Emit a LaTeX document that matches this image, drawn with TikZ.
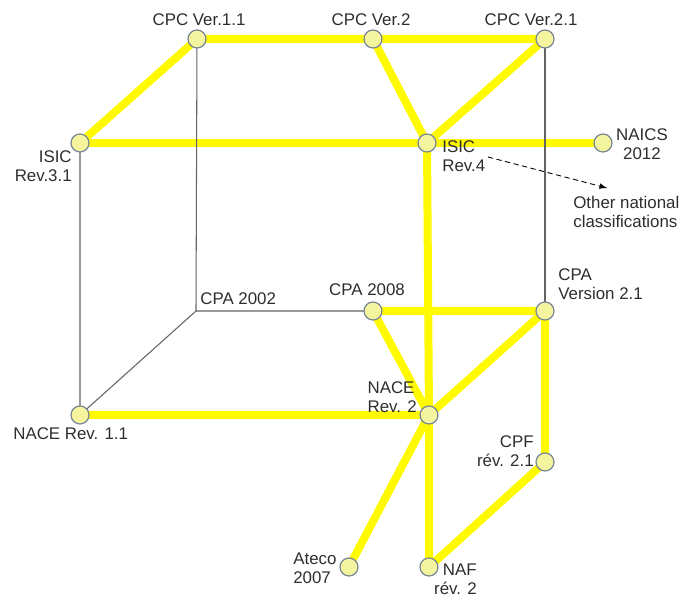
\documentclass[tikz,border=0pt]{standalone}
\usepackage{fontspec}
\setmainfont{Liberation Sans}
\usetikzlibrary{backgrounds}
\definecolor{gialloLinea}{RGB}{255,250,0}
\definecolor{giallinoPallino}{RGB}{245,245,160}
\definecolor{bordoPallino}{RGB}{120,135,150}
\definecolor{grigioLinea}{RGB}{100,100,100}
\definecolor{grigioTesto}{RGB}{45,45,45}
\begin{document}
\begin{tikzpicture}[x=0.02cm,y=-0.02cm,
    pallino/.style={circle,draw=bordoPallino,fill=giallinoPallino,line width=0.7pt,minimum size=0.36cm,inner sep=0},
    testo/.style={inner sep=0,font=\fontsize{9.6}{10.8}\selectfont,text=grigioTesto},
    ponte/.style={gialloLinea,line width=0.16cm},
    sottile/.style={grigioLinea,line width=0.6pt}]
    \useasboundingbox (0,0) rectangle (687,597);
    %pallini
    \node[pallino] (cpc11) at (197,39) {};
    \node[pallino] (cpc2) at (373,39) {};
    \node[pallino] (cpc21) at (545,39) {};
    \node[pallino] (isic31) at (80,143) {};
    \node[pallino] (isic4) at (427,143) {};
    \node[pallino] (naics) at (603,143) {};
    \coordinate (cpa02) at (196,311);
    \node[pallino] (cpa08) at (373,311) {};
    \node[pallino] (cpa21) at (545,311) {};
    \node[pallino] (nace11) at (80,415) {};
    \node[pallino] (nace2) at (429,415) {};
    \node[pallino] (cpf) at (545,462) {};
    \node[pallino] (ateco) at (349,567) {};
    \node[pallino] (naf) at (429,567) {};
    %etichette
    \node[testo,anchor=north] (tcpc11) at (199,13) {CPC Ver.1.1};
    \node[testo,anchor=north] (tcpc2) at (371,13) {CPC Ver.2};
    \node[testo,anchor=north] (tcpc21) at (531,13) {CPC Ver.2.1};
    \node[testo,anchor=north east,align=right] (tisic31) at (72,150) {ISIC\\Rev.3.1};
    \node[testo,anchor=north west,align=left] (tisic4) at (442,140) {ISIC\\Rev.4};
    \node[testo,anchor=north,align=center] (tnaics) at (642,128) {NAICS\\2012};
    \node[testo,anchor=north west,align=left] (taltre) at (573,196) {Other national\\classifications};
    \node[testo,anchor=north west] (tcpa02) at (200,292) {CPA 2002};
    \node[testo,anchor=north] (tcpa08) at (367,283) {CPA 2008};
    \node[testo,anchor=north west,align=left] (tcpa21) at (558,268) {CPA\\Version 2.1};
    \node[testo,anchor=north east,align=left] (tnace2) at (417,381) {NACE\\Rev. 2};
    \node[testo,anchor=north west] (tnace11) at (13,427) {NACE Rev. 1.1};
    \node[testo,anchor=north east,align=right] (tcpf) at (534,435) {CPF\\rév. 2.1};
    \node[testo,anchor=north west,align=left] (tateco) at (293,553) {Ateco\\2007};
    \node[testo,anchor=north east,align=right] (tnaf) at (477,564) {NAF\\rév. 2};
    %freccia tratteggiata
    \coordinate (freccia1) at (488,157);
    \coordinate (freccia2) at (607,188);
    \draw[black,line width=0.5pt,dash pattern=on 3pt off 2pt,-latex] (freccia1)--(freccia2);
    \begin{pgfonlayer}{background}
    %linee gialle
    \draw[ponte] (isic31.center)--(cpc11.center)--(cpc2.center)--(cpc21.center);
    \draw[ponte] (isic31.center)--(isic4.center)--(naics.center);
    \draw[ponte] (cpc2.center)--(isic4.center)--(cpc21.center);
    \draw[ponte] (isic4.center)--(nace2.center)--(naf.center)--(cpf.center)--(cpa21.center)--(cpa08.center)--(nace2.center);
    \draw[ponte] (nace11.center)--(nace2.center)--(cpa21.center);
    \draw[ponte] (nace2.center)--(ateco.center);
    %linee sottili
    \draw[sottile] (cpc11.center)--(cpa02)--(cpa08.center);
    \draw[sottile] (isic31.center)--(nace11.center)--(cpa02);
    \draw[sottile] (cpc21.center)--(cpa21.center);
    \end{pgfonlayer}
\end{tikzpicture}
\end{document}
